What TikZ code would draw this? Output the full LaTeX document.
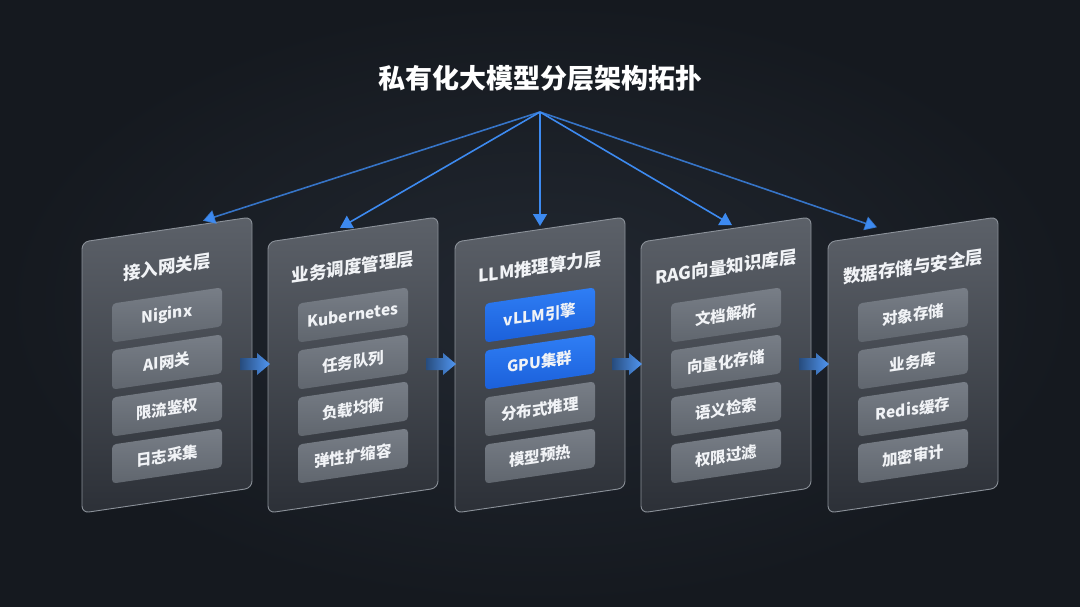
\documentclass[tikz,border=0pt]{standalone}
\usepackage{fontspec}
\newfontfamily\cjk{Noto Sans CJK SC}
\usetikzlibrary{calc,arrows.meta}
\definecolor{bgc}{HTML}{15191F}
\definecolor{bgglow}{HTML}{222831}
\definecolor{paneltop}{HTML}{5C6169}
\definecolor{panelbot}{HTML}{2C3037}
\definecolor{panelline}{HTML}{8B9199}
\definecolor{itemtop}{HTML}{787E87}
\definecolor{itembot}{HTML}{60666E}
\definecolor{bluetop}{HTML}{2F7EF5}
\definecolor{bluebot}{HTML}{1B60DA}
\definecolor{arrowblue}{HTML}{3D8AF0}
\definecolor{txt}{HTML}{F1F3F6}
\begin{document}
\begin{tikzpicture}[x=1pt,y=-1pt,
  panelbox/.style={top color=paneltop, bottom color=panelbot, draw=panelline, line width=0.9pt, rounded corners=7pt},
  paneltitle/.style={text=txt, font=\cjk\bfseries\fontsize{17.5}{20}\selectfont, transform shape, inner sep=0pt},
  itembox/.style={top color=itemtop, bottom color=itembot, rounded corners=4pt, minimum width=110pt, minimum height=39pt, inner sep=0pt, text=txt, font=\cjk\bfseries\fontsize{15.5}{18}\selectfont, transform shape},
  bluebox/.style={itembox, top color=bluetop, bottom color=bluebot},
  fanarrow/.style={draw=arrowblue, line width=1.6pt, -{Triangle[width=14pt,length=12pt]}},
  titlestyle/.style={text=white, font=\cjk\bfseries\fontsize{27}{30}\selectfont, inner sep=0pt}
]
% background
\fill[bgc] (0,0) rectangle (1080,606);
\shade[inner color=bgglow, outer color=bgc] (0,0) rectangle (1080,606);
\useasboundingbox (0,0) rectangle (1080,606);

% title
\node[titlestyle] (title) at (540,78) {私有化大模型分层架构拓扑};
\coordinate (src) at (540,112);

% panel 1
\begin{scope}[shift={(167,365)}, yslant=0.147]
  \path[panelbox] (-85,-135.5) rectangle (85,135.5);
  \node[paneltitle] (t1) at (0,-98) {接入网关层};
  \node[itembox] (a1) at (0,-50) {Niginx};
  \node[itembox] (a2) at (0,-3) {AI网关};
  \node[itembox] (a3) at (0,44) {限流鉴权};
  \node[itembox] (a4) at (0,91) {日志采集};
  \coordinate (in1) at (36,-139);
\end{scope}

% panel 2
\begin{scope}[shift={(353,365)}, yslant=0.147]
  \path[panelbox] (-85,-135.5) rectangle (85,135.5);
  \node[paneltitle] (t2) at (0,-98) {业务调度管理层};
  \node[itembox] (b1) at (0,-50) {Kubernetes};
  \node[itembox] (b2) at (0,-3) {任务队列};
  \node[itembox] (b3) at (0,44) {负载均衡};
  \node[itembox] (b4) at (0,91) {弹性扩缩容};
  \coordinate (in2) at (-13,-139);
\end{scope}

% panel 3
\begin{scope}[shift={(540,365)}, yslant=0.147]
  \path[panelbox] (-85,-135.5) rectangle (85,135.5);
  \node[paneltitle] (t3) at (0,-98) {LLM推理算力层};
  \node[bluebox] (c1) at (0,-50) {vLLM引擎};
  \node[bluebox] (c2) at (0,-3) {GPU集群};
  \node[itembox] (c3) at (0,44) {分布式推理};
  \node[itembox] (c4) at (0,91) {模型预热};
  \coordinate (in3) at (0,-139);
\end{scope}

% panel 4
\begin{scope}[shift={(726,365)}, yslant=0.147]
  \path[panelbox] (-85,-135.5) rectangle (85,135.5);
  \node[paneltitle] (t4) at (0,-98) {RAG向量知识库层};
  \node[itembox] (d1) at (0,-50) {文档解析};
  \node[itembox] (d2) at (0,-3) {向量化存储};
  \node[itembox] (d3) at (0,44) {语义检索};
  \node[itembox] (d4) at (0,91) {权限过滤};
  \coordinate (in4) at (6,-139);
\end{scope}

% panel 5
\begin{scope}[shift={(913,365)}, yslant=0.147]
  \path[panelbox] (-85,-135.5) rectangle (85,135.5);
  \node[paneltitle] (t5) at (0,-98) {数据存储与安全层};
  \node[itembox] (e1) at (0,-50) {对象存储};
  \node[itembox] (e2) at (0,-3) {业务库};
  \node[itembox] (e3) at (0,44) {Redis缓存};
  \node[itembox] (e4) at (0,91) {加密审计};
  \coordinate (in5) at (-36,-143);
\end{scope}

% fan arrows
\draw[fanarrow, draw opacity=0.8] (src) -- (in1);
\draw[fanarrow] (src) -- (in2);
\draw[fanarrow] (src) -- (in3);
\draw[fanarrow] (src) -- (in4);
\draw[fanarrow, draw opacity=0.8] (src) -- (in5);

% flow arrows between panels
\coordinate (g1s) at (240,364); \coordinate (g1e) at (270,364);
\coordinate (g2s) at (426,364); \coordinate (g2e) at (456,364);
\coordinate (g3s) at (612,364); \coordinate (g3e) at (642,364);
\coordinate (g4s) at (799,364); \coordinate (g4e) at (829,364);
\foreach \s/\e in {g1s/g1e, g2s/g2e, g3s/g3e, g4s/g4e}{
  \shade[left color=arrowblue!45!bgc, right color=arrowblue!90!white]
    ($(\s)+(0,-6)$) -- ($(\e)+(-13,-6)$) -- ($(\e)+(-13,-11)$) -- (\e)
    -- ($(\e)+(-13,11)$) -- ($(\e)+(-13,6)$) -- ($(\s)+(0,6)$) -- cycle;
}
\end{tikzpicture}
\end{document}
